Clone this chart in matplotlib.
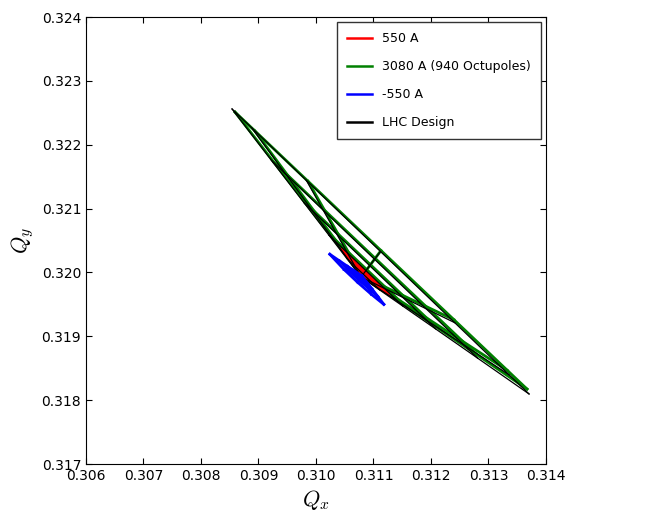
import numpy as np
import matplotlib.pyplot as plt
from matplotlib.ticker import FormatStrFormatter

plt.rcParams['font.family'] = ['DejaVu Sans']
plt.rcParams['mathtext.fontset'] = 'cm'
plt.rcParams['xtick.direction'] = 'in'
plt.rcParams['ytick.direction'] = 'in'
plt.rcParams['xtick.top'] = True
plt.rcParams['ytick.right'] = True

# footprint meshes: rows = amplitude rings (inner -> outer), cols = angle (0 -> 90 deg)
origin_main = (0.31080, 0.319944)
origin_design = (0.310783, 0.319929)

qx_550 = np.array([
    [0.310915, 0.310864, 0.310813, 0.310762, 0.310712],
    [0.311004, 0.310914, 0.310823, 0.310733, 0.310643],
    [0.311119, 0.310978, 0.310837, 0.310696, 0.310555],
    [0.311259, 0.311056, 0.310853, 0.310650, 0.310447],
])
qy_550 = np.array([
    [0.319873, 0.319917, 0.319960, 0.320003, 0.320047],
    [0.319818, 0.319895, 0.319972, 0.320049, 0.320126],
    [0.319748, 0.319868, 0.319988, 0.320109, 0.320229],
    [0.319661, 0.319834, 0.320008, 0.320181, 0.320355],
])

qx_3080 = np.array([
    [0.311119, 0.311081, 0.310978, 0.310837, 0.310696, 0.310593, 0.310555],
    [0.311517, 0.311432, 0.311200, 0.310883, 0.310565, 0.310333, 0.310248],
    [0.312074, 0.311923, 0.311510, 0.310947, 0.310383, 0.309971, 0.309819],
    [0.312792, 0.312555, 0.311910, 0.311029, 0.310148, 0.309504, 0.309267],
    [0.313670, 0.313329, 0.312400, 0.311130, 0.309861, 0.308932, 0.308591],
])
qy_3080 = np.array([
    [0.319748, 0.319780, 0.319868, 0.319988, 0.320109, 0.320197, 0.320229],
    [0.319502, 0.319574, 0.319773, 0.320044, 0.320315, 0.320513, 0.320586],
    [0.319158, 0.319287, 0.319640, 0.320121, 0.320603, 0.320955, 0.321084],
    [0.318716, 0.318918, 0.319469, 0.320221, 0.320974, 0.321524, 0.321726],
    [0.318174, 0.318465, 0.319259, 0.320343, 0.321428, 0.322221, 0.322512],
])

qx_m550 = np.array([
    [0.310660, 0.310722, 0.310785, 0.310842, 0.310899],
    [0.310550, 0.310660, 0.310770, 0.310875, 0.310977],
    [0.310410, 0.310585, 0.310750, 0.310917, 0.311076],
    [0.310240, 0.310490, 0.310725, 0.310960, 0.311180],
])
qy_m550 = np.array([
    [0.320030, 0.319972, 0.319922, 0.319877, 0.319828],
    [0.320095, 0.319990, 0.319900, 0.319822, 0.319739],
    [0.320180, 0.320015, 0.319875, 0.319750, 0.319623],
    [0.320285, 0.320045, 0.319845, 0.319660, 0.319500],
])

qx_design = np.array([
    [0.311107, 0.311069, 0.310964, 0.310821, 0.310677, 0.310572, 0.310534],
    [0.311513, 0.311427, 0.311191, 0.310868, 0.310545, 0.310309, 0.310222],
    [0.312080, 0.311927, 0.311507, 0.310934, 0.310360, 0.309941, 0.309787],
    [0.312811, 0.312571, 0.311914, 0.311018, 0.310122, 0.309466, 0.309226],
    [0.313705, 0.313359, 0.312413, 0.311122, 0.309831, 0.308886, 0.308540],
])
qy_design = np.array([
    [0.319726, 0.319759, 0.319850, 0.319973, 0.320097, 0.320188, 0.320221],
    [0.319471, 0.319546, 0.319750, 0.320029, 0.320308, 0.320512, 0.320587],
    [0.319116, 0.319248, 0.319611, 0.320106, 0.320602, 0.320964, 0.321097],
    [0.318658, 0.318865, 0.319432, 0.320206, 0.320980, 0.321547, 0.321755],
    [0.318097, 0.318396, 0.319213, 0.320328, 0.321444, 0.322261, 0.322560],
])


def draw_footprint(ax, qx, qy, origin, color, lw, label, z):
    # amplitude rings
    for i in range(qx.shape[0]):
        ax.plot(qx[i], qy[i], color=color, lw=lw, zorder=z,
                label=label if i == 0 else None)
    # constant-angle lines from the zero amplitude tune
    for j in range(qx.shape[1]):
        ax.plot(np.r_[origin[0], qx[:, j]], np.r_[origin[1], qy[:, j]],
                color=color, lw=lw, zorder=z)


fig = plt.figure(figsize=(6.5, 5.27), dpi=100, facecolor='white')
ax = fig.add_axes([0.1323, 0.1195, 0.7077, 0.8482])

draw_footprint(ax, qx_550, qy_550, origin_main, 'red', 2.0, '550 A', 3)
draw_footprint(ax, qx_3080, qy_3080, origin_main, 'green', 2.0, '3080 A (940 Octupoles)', 2)
draw_footprint(ax, qx_m550, qy_m550, origin_main, 'blue', 2.0, '-550 A', 5)
draw_footprint(ax, qx_design, qy_design, origin_design, 'black', 0.9, 'LHC Design', 4)

ax.set_xlim(0.306, 0.314)
ax.set_ylim(0.317, 0.324)
ax.set_xticks(np.arange(0.306, 0.31401, 0.001))
ax.set_yticks(np.arange(0.317, 0.32401, 0.001))
ax.xaxis.set_major_formatter(FormatStrFormatter('%.3f'))
ax.yaxis.set_major_formatter(FormatStrFormatter('%.3f'))
ax.tick_params(labelsize=10, length=4, width=0.8)
ax.set_xlabel('$Q_x$', fontsize=16)
ax.set_ylabel('$Q_y$', fontsize=16)

leg = ax.legend(loc='upper right', fontsize=9, labelspacing=1.2, borderpad=0.8,
                handlelength=2.0, handletextpad=0.8, fancybox=False,
                framealpha=1, edgecolor='0.2', borderaxespad=0.4)
for line in leg.get_lines():
    line.set_linewidth(1.8)

fig.savefig('out.png', dpi=100, facecolor='white')
